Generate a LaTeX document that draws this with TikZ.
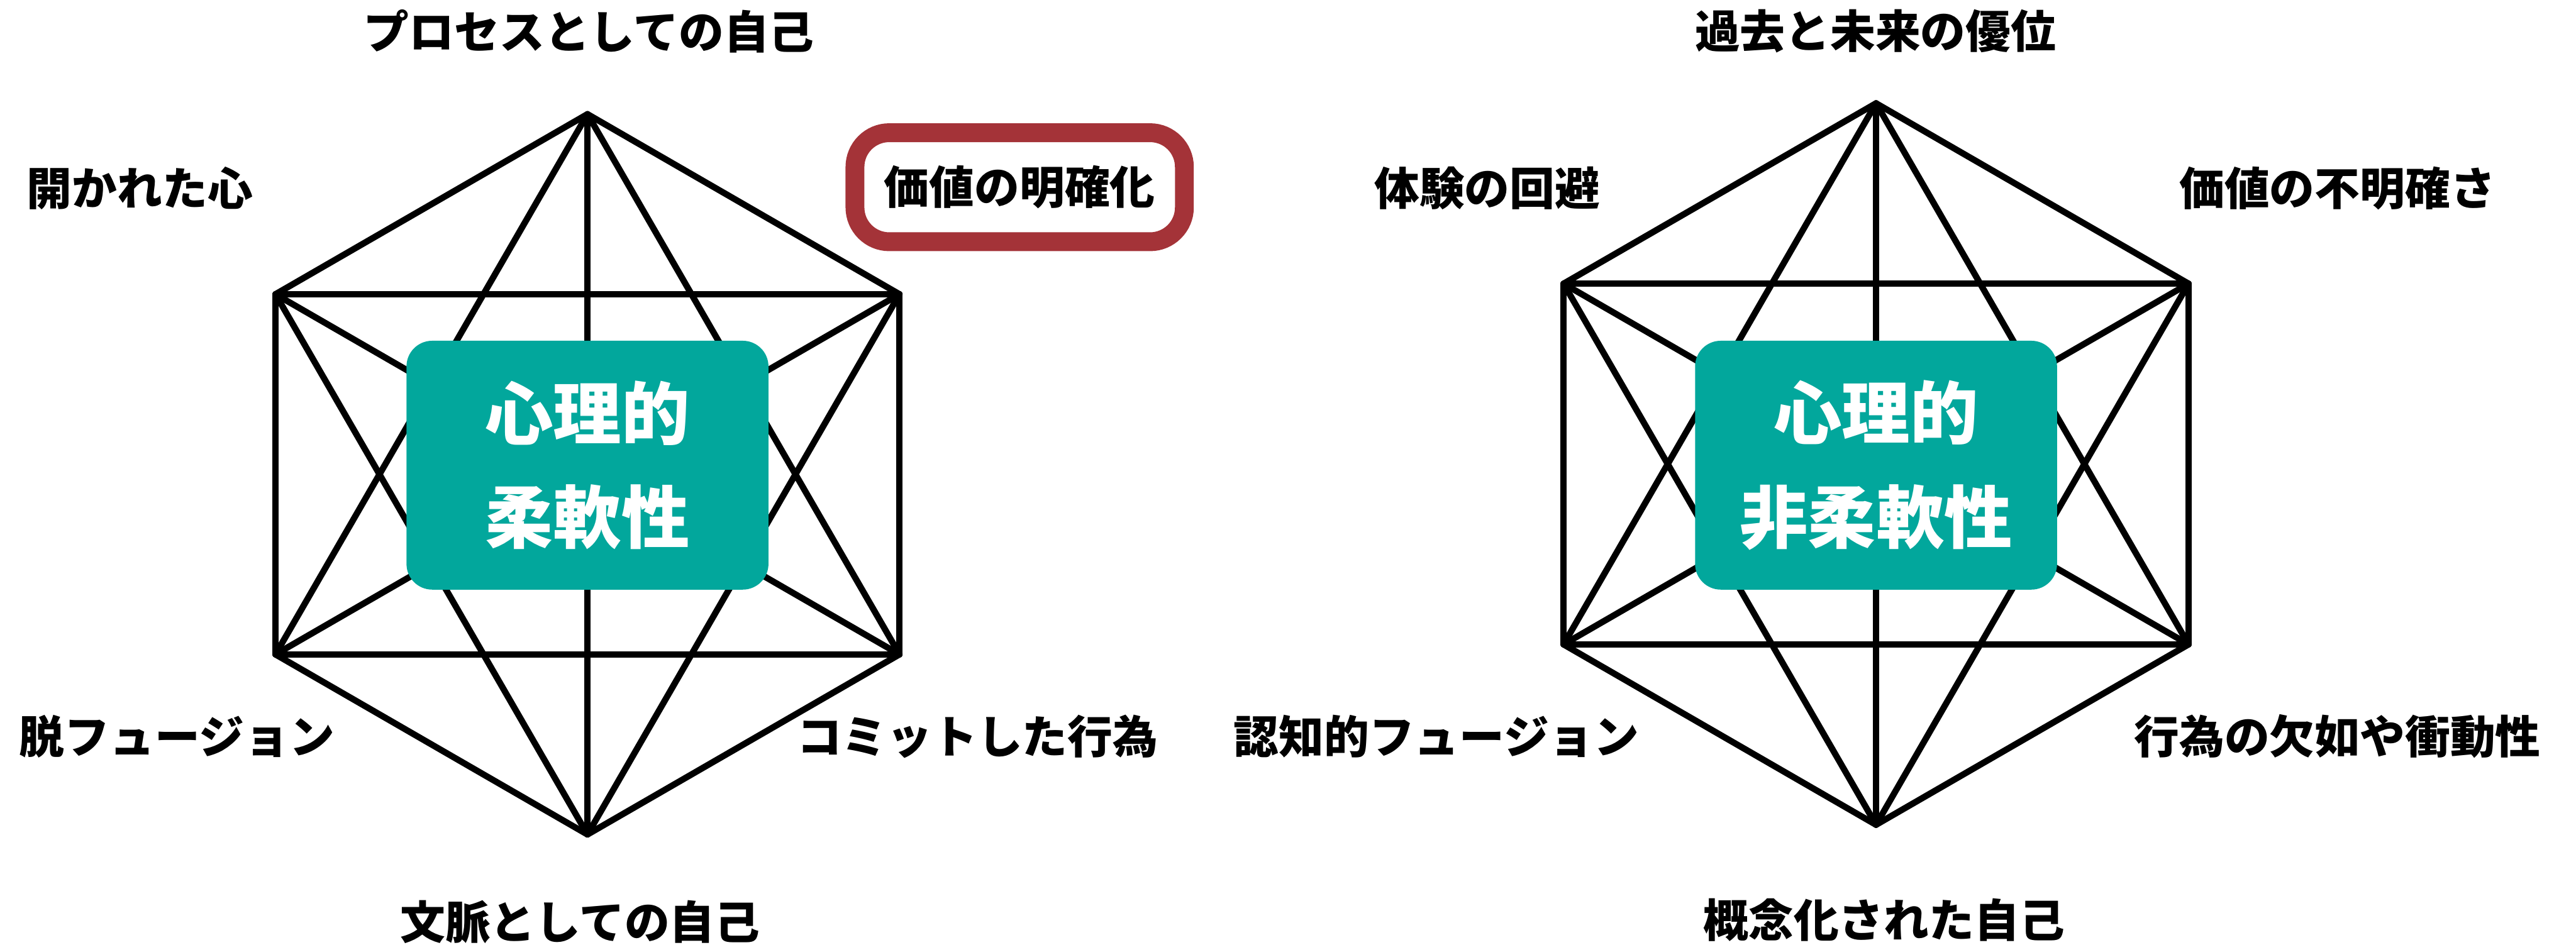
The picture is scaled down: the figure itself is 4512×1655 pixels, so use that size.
\documentclass[tikz,border=0pt]{standalone}
\usepackage{fontspec}
\setmainfont{Noto Sans CJK JP}
\begin{document}
\begin{tikzpicture}[x=0.1mm,y=-0.1mm,
  edge/.style={line width=1.1mm, line cap=round, line join=round},
  lbl/.style={font=\fontsize{22.5pt}{26pt}\selectfont\bfseries, inner sep=0pt},
  core/.style={fill=teal0, rounded corners=4.5mm, minimum width=63.4mm, minimum height=43.6mm,
    text=white, align=center, inner sep=0pt, font=\fontsize{34pt}{52pt}\selectfont\bfseries},
  hilite/.style={draw=red0, line width=3.3mm, rounded corners=6mm, fill=white,
    minimum width=57.7mm, minimum height=19.1mm, inner sep=0pt}]
\definecolor{teal0}{HTML}{02A79C}
\definecolor{red0}{HTML}{A43338}
\useasboundingbox (0,0) rectangle (4512,1655);
% left hexaflex
\foreach \i/\a in {1/90,2/30,3/-30,4/-90,5/-150,6/150}{
  \coordinate (L\i) at ({1029+631*cos(\a)},{831-631*sin(\a)});
  \coordinate (R\i) at ({3286+632*cos(\a)},{813-632*sin(\a)});
}
\foreach \i in {1,...,5}{
  \foreach \j in {\i,...,6}{
    \ifnum\i<\j
      \draw[edge] (L\i) -- (L\j);
      \draw[edge] (R\i) -- (R\j);
    \fi
  }
}
\node[core] (lc) at (1029,815) {心理的\\柔軟性};
\node[core] (rc) at (3286,815) {心理的\\非柔軟性};
% left labels
\node[lbl] (l1) at (1032,55) {プロセスとしての自己};
\node[lbl] (l6) at (245,330) {開かれた心};
\node[hilite] (l2box) at (1786,328) {};
\node[lbl] (l2) at (1786,328) {価値の明確化};
\node[lbl] (l5) at (310,1290) {脱フュージョン};
\node[lbl] (l3) at (1712,1290) {コミットした行為};
\node[lbl] (l4) at (1016,1615) {文脈としての自己};
% right labels
\node[lbl] (r1) at (3285,55) {過去と未来の優位};
\node[lbl] (r6) at (2605,330) {体験の回避};
\node[lbl] (r2) at (4094,330) {価値の不明確さ};
\node[lbl] (r5) at (2516,1290) {認知的フュージョン};
\node[lbl] (r3) at (4094,1290) {行為の欠如や衝動性};
\node[lbl] (r4) at (3300,1612) {概念化された自己};
\end{tikzpicture}
\end{document}
